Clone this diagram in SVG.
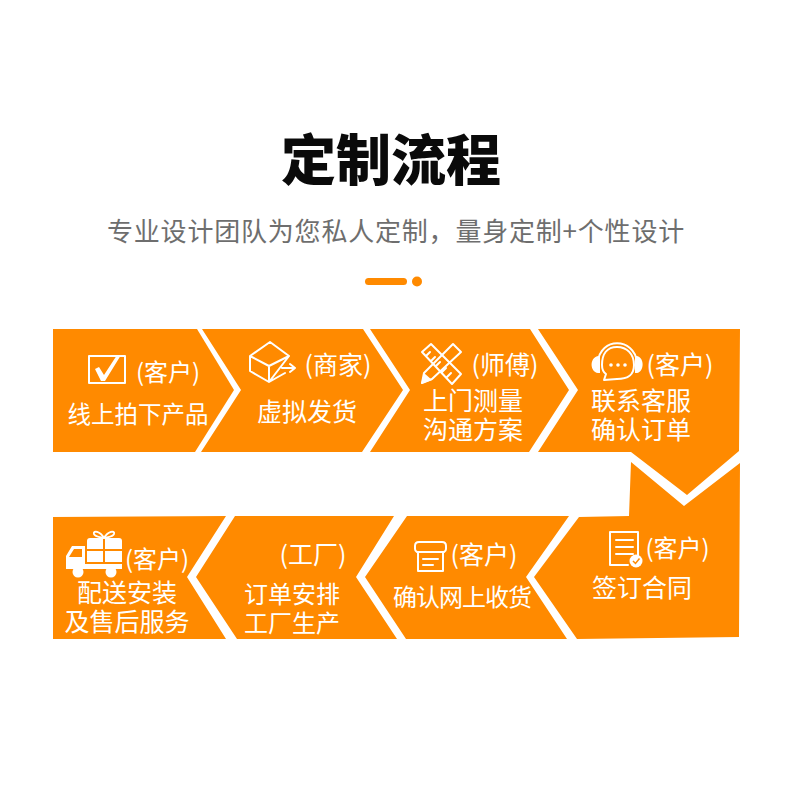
<svg xmlns="http://www.w3.org/2000/svg" width="800" height="800" viewBox="0 0 800 800">
<style>
text{font-family:"Noto Sans CJK SC","Noto Sans",sans-serif;fill:#fff;text-anchor:middle}
.s{fill:#ff8a00}
.i{fill:none;stroke:#fff;stroke-width:2;stroke-linejoin:round;stroke-linecap:round}
.f{fill:#fff;stroke:none}
</style>
<rect width="800" height="800" fill="#fff"/>
<g id="header">
<text x="391" y="180" font-size="55" font-weight="900" style="fill:#0a0a0a">定制流程</text>
<text x="396" y="241" font-size="26" letter-spacing="0.8" style="fill:#6e6e6e">专业设计团队为您私人定制，量身定制+个性设计</text>
<rect x="365" y="278" width="42" height="7" rx="3.5" fill="#ff8a00"/>
<circle cx="417" cy="281.500" r="5" fill="#ff8a00"/>
</g>
<g id="step1">
<path class="s" d="M53 329H197L234 390L195 452H53Z"/>
<path class="i" d="M89 356H125V383H89Z"/>
<path class="f" d="M95 369L99 367L104 375L117 355L121 355L105 381H101Z"/>
<text x="168" y="381" font-size="24">(客户)</text>
<text x="138" y="423" font-size="23.500">线上拍下产品</text>
</g>
<g id="step2">
<path class="s" d="M202 329H363L403 390L362 452H201L241 390Z"/>
<path class="i" d="M250 356L270 342L289 356L269 382L250 371ZM250 356L269 366L289 356M269 366V382M269 382L285 373M282 368H294M290 364L295 368L290 372"/>
<text x="338" y="374" font-size="25">(商家)</text>
<text x="307" y="421" font-size="25">虚拟发货</text>
</g>
<g id="step3">
<path class="s" d="M370 329H530L569 390L529 452H370L410 390Z"/>
<path class="i" d="M422 352L431 344L461 374L452 384ZM426 356L430 352M431 361L435 357M436 366L440 362M442 372L446 368M447 377L451 373"/>
<path class="i" d="M453 344L461 352L432 379L422 383L424 373Z"/>
<path class="f" d="M421 384L424 373L432 380Z"/>
<text x="505" y="374" font-size="25">(师傅)</text>
<text font-size="25"><tspan x="473" y="410">上门测量</tspan><tspan x="473" y="439">沟通方案</tspan></text>
</g>
<g id="step4">
<path class="s" d="M538 329H740L739 451L687 495L631 452H538L578 390Z"/>
<path class="i" d="M598 362C600 337 634 337 637 362"/>
<path class="i" d="M602 365C602 354 607 347 617 347C627 347 634 354 634 365C634 376 627 379 617 379L604 380L606 374C603 372 602 369 602 365Z"/>
<path class="f" d="M598 356H600V373H598C590 372 589 358 598 356ZM637 356H635V373H637C644 372 645 358 637 356Z"/>
<circle class="f" cx="611" cy="365" r="1.800"/><circle class="f" cx="618" cy="365" r="1.800"/><circle class="f" cx="625" cy="365" r="1.800"/>
<text x="680" y="374" font-size="25">(客户)</text>
<text font-size="25"><tspan x="641" y="410">联系客服</tspan><tspan x="641" y="439">确认订单</tspan></text>
</g>
<g id="step5">
<path class="s" d="M631 462L684 506L740 463L739 637L577 639L534 577L579 517L629 516Z"/>
<path class="i" d="M610 532H638V556M628 565H610V532"/>
<path class="i" d="M616 540H633M616 547H633M616 554H633"/>
<circle class="f" cx="636" cy="561" r="6.500"/>
<path d="M633 561L635.500 563.500L639.500 558.500" fill="none" stroke="#ff8a00" stroke-width="1.500"/>
<text x="677.500" y="557" font-size="24">(客户)</text>
<text x="642" y="597" font-size="25">签订合同</text>
</g>
<g id="step6">
<path class="s" d="M569 516L526 577L567 639H406L365 577L407 516Z"/>
<path class="i" d="M415 549V546Q415 542 419 542H442Q446 542 446 546V549Q446 551 444 552H417Q415 551 415 549ZM418 552V571H443V552M423 559H438M423 565H433"/>
<text x="484" y="564" font-size="25">(客户)</text>
<text x="462" y="606" font-size="24" letter-spacing="-1">确认网上收货</text>
</g>
<g id="step7">
<path class="s" d="M394 516L356 577L397 639H237L196 577L235 516Z"/>
<text x="313" y="564" font-size="25">(工厂)</text>
<text font-size="24"><tspan x="292" y="603">订单安排</tspan><tspan x="292" y="632">工厂生产</tspan></text>
</g>
<g id="step8">
<path class="s" d="M53 517L226 516L187 577L226 639H53Z"/>
<path class="f" d="M90 538H119Q122 538 122 541V562H87V541Q87 538 90 538Z"/>
<path d="M87 550H122M104 538V562" stroke="#ff8a00" stroke-width="2" fill="none"/>
<path class="f" d="M72 546H85V569H66V556ZM74 549L69 557H82V549Z"/>
<path class="f" d="M85 564H122V569H85Z"/>
<circle class="f" cx="78" cy="572" r="5.500"/><circle class="f" cx="111" cy="572" r="5.500"/>
<path class="i" d="M104 538C100 531 93 530 94 534C95 537 100 537 104 538C108 531 115 530 114 534C113 537 108 537 104 538" stroke-width="1.500"/>
<text x="157" y="568" font-size="24">(客户)</text>
<text font-size="25"><tspan x="127" y="602">配送安装</tspan><tspan x="127" y="631">及售后服务</tspan></text>
</g>
</svg>
